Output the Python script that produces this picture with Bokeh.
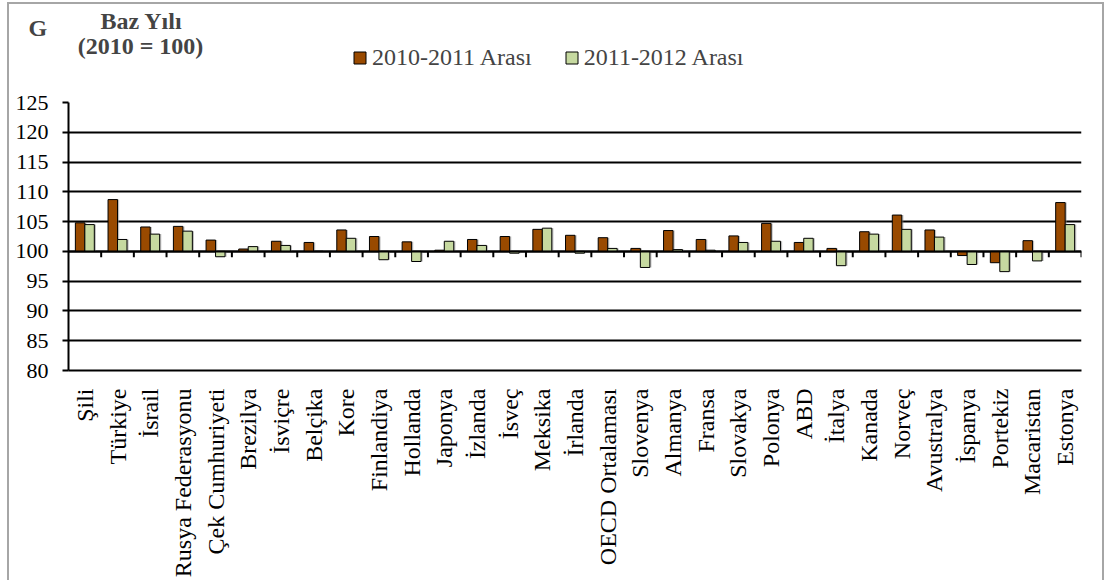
import numpy as np
from bokeh.plotting import figure
from bokeh.layouts import column
from bokeh.models import (Range1d, FixedTicker, Label, Legend, LegendItem, ColumnDataSource)
from bokeh.transform import dodge
from bokeh.embed import file_html
from bokeh.resources import INLINE

categories = ["Şili", "Türkiye", "İsrail", "Rusya Federasyonu", "Çek Cumhuriyeti", "Brezilya",
              "İsviçre", "Belçika", "Kore", "Finlandiya", "Hollanda", "Japonya", "İzlanda", "İsveç",
              "Meksika", "İrlanda", "OECD Ortalaması", "Slovenya", "Almanya", "Fransa", "Slovakya",
              "Polonya", "ABD", "İtalya", "Kanada", "Norveç", "Avustralya", "İspanya", "Portekiz",
              "Macaristan", "Estonya"]
series_2010_2011 = [104.8, 108.7, 104.1, 104.2, 101.9, 100.4, 101.7, 101.5, 103.6, 102.5, 101.6,
                    100.2, 102.0, 102.5, 103.7, 102.7, 102.3, 100.5, 103.5, 102.0, 102.6, 104.7,
                    101.5, 100.5, 103.3, 106.1, 103.6, 99.3, 98.1, 101.8, 108.2]
series_2011_2012 = [104.5, 102.0, 102.9, 103.4, 99.1, 100.8, 101.0, 100.0, 102.2, 98.6, 98.3,
                    101.7, 101.0, 99.7, 103.9, 99.7, 100.5, 97.3, 100.3, 100.2, 101.5, 101.7,
                    102.2, 97.6, 102.9, 103.7, 102.4, 97.8, 96.6, 98.4, 104.5]
series_names = ["2010-2011 Arası", "2011-2012 Arası"]
y_ticks = [80, 85, 90, 95, 100, 105, 110, 115, 120, 125]
base_value = 100
panel_letter = "G"
base_title = ["Baz Yılı", "(2010 = 100)"]

FONT = "'Liberation Serif'"
BROWN = "#994a00"
GREEN = "#c6d9a0"

n = len(categories)
centers = np.arange(n) + 0.5
bw = 0.29

W = 1093
HEAD_H = 80
MAIN_H = 496

src1 = ColumnDataSource(dict(x=centers - bw / 2, top=series_2010_2011))
src2 = ColumnDataSource(dict(x=centers + bw / 2, top=series_2011_2012))

# ---------------- main chart ----------------
p = figure(width=W, height=MAIN_H, output_backend="svg", toolbar_location=None,
           x_range=Range1d(0, n), y_range=Range1d(y_ticks[0], y_ticks[-1]),
           min_border_left=59, min_border_right=21, min_border_top=18, min_border_bottom=207)
p.outline_line_color = None
p.background_fill_color = "white"
p.border_fill_color = "white"

# soft drop shadows of the bars
for src in (src1, src2):
    p.vbar(x=dodge("x", 0.05, range=p.x_range), top="top", bottom=base_value, width=bw,
           source=src, fill_color="#8c8c8c", fill_alpha=0.55, line_color=None)

r1 = p.vbar(x="x", top="top", bottom=base_value, width=bw, source=src1,
            fill_color=BROWN, line_color="black", line_width=1)
r2 = p.vbar(x="x", top="top", bottom=base_value, width=bw, source=src2,
            fill_color=GREEN, line_color="black", line_width=1)

# category axis crossing at 100 with tick marks between categories
p.segment(x0=[0], y0=[base_value], x1=[n], y1=[base_value], line_color="black", line_width=2)
bounds = np.arange(1, n + 1)
p.segment(x0=bounds, y0=[base_value] * len(bounds), x1=bounds, y1=[base_value - 1.0] * len(bounds),
          line_color="black", line_width=2)

p.yaxis.ticker = FixedTicker(ticks=y_ticks)
p.yaxis.axis_line_color = "black"
p.yaxis.axis_line_width = 2
p.yaxis.major_tick_line_color = "black"
p.yaxis.major_tick_line_width = 2
p.yaxis.major_tick_out = 6
p.yaxis.major_tick_in = 0
p.yaxis.minor_tick_line_color = None
p.yaxis.major_label_text_font = FONT
p.yaxis.major_label_text_font_size = "22px"
p.yaxis.major_label_text_color = "black"
p.yaxis.major_label_standoff = 14

p.ygrid.ticker = FixedTicker(ticks=y_ticks)
p.ygrid.grid_line_color = "black"
p.ygrid.grid_line_width = 2
p.xgrid.grid_line_color = None

p.xaxis.ticker = FixedTicker(ticks=list(centers))
p.xaxis.major_label_overrides = {float(c): lab for c, lab in zip(centers, categories)}
p.xaxis.major_label_orientation = np.pi / 2
p.xaxis.major_label_text_font = FONT
p.xaxis.major_label_text_font_size = "24px"
p.xaxis.major_label_text_color = "black"
p.xaxis.major_tick_line_color = None
p.xaxis.minor_tick_line_color = None
p.xaxis.axis_line_color = "black"
p.xaxis.axis_line_width = 2
p.xaxis.major_label_standoff = 12

# ---------------- header (titles + legend) ----------------
h = figure(width=W, height=HEAD_H, output_backend="svg", toolbar_location=None,
           x_range=Range1d(0, W), y_range=Range1d(HEAD_H, 0),
           x_axis_type=None, y_axis_type=None,
           min_border_left=0, min_border_right=0, min_border_top=0, min_border_bottom=0)
if "frame_align" in h.properties():
    h.frame_align = False
    p.frame_align = False
h.outline_line_color = None
h.xgrid.grid_line_color = None
h.ygrid.grid_line_color = None
h.background_fill_color = "white"
h.border_fill_color = "white"

# same series glyphs (outside the header's ranges) used for the legend swatches
hr1 = h.vbar(x="x", top="top", bottom=base_value, width=bw, source=src1,
             fill_color=BROWN, line_color="black", line_width=1)
hr2 = h.vbar(x="x", top="top", bottom=base_value, width=bw, source=src2,
             fill_color=GREEN, line_color="black", line_width=1)

legend = Legend(items=[LegendItem(label=series_names[0], renderers=[hr1]),
                       LegendItem(label=series_names[1], renderers=[hr2])],
                orientation="horizontal", location=(343, 13),
                label_text_font=FONT, label_text_font_size="24px",
                glyph_width=15, glyph_height=15, spacing=32, padding=0, margin=0,
                label_standoff=5, border_line_color=None, background_fill_alpha=0)
h.add_layout(legend, "center")

h.add_layout(Label(x=19, y=23, text=panel_letter, text_font=FONT, text_font_style="bold",
                   text_font_size="24px", text_baseline="alphabetic"))
h.add_layout(Label(x=132, y=16, text=base_title[0], text_font=FONT, text_font_style="bold",
                   text_font_size="24px", text_align="center", text_baseline="alphabetic"))
h.add_layout(Label(x=131, y=41, text=base_title[1], text_font=FONT, text_font_style="bold",
                   text_font_size="24px", text_align="center", text_baseline="alphabetic"))

layout = column(h, p, spacing=0)
layout.margin = (2, 0, 0, 7)
layout.styles = {"border-top": "2px solid #a6a6a6", "border-left": "2px solid #a6a6a6",
                 "border-right": "2px solid #a6a6a6"}

open("out.html", "w").write(file_html(layout, INLINE))
